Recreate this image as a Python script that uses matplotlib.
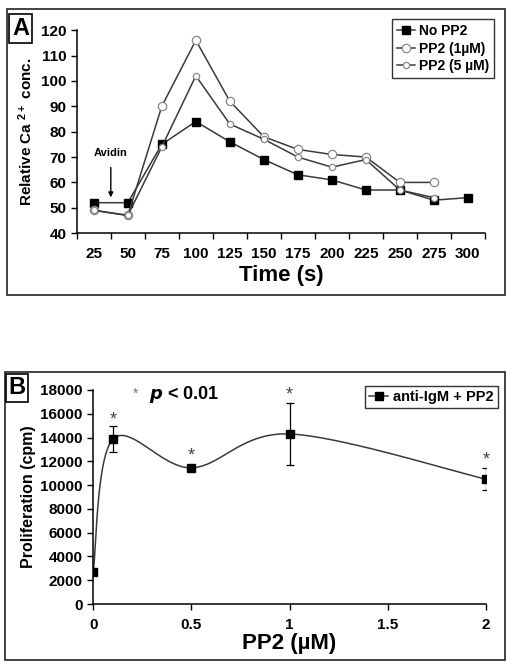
import matplotlib
matplotlib.use("Agg")
import matplotlib.pyplot as plt
from matplotlib.patches import Rectangle
import numpy as np

plt.rcParams["font.family"] = ["Liberation Sans", "DejaVu Sans"]
plt.rcParams["font.weight"] = "bold"
plt.rcParams["mathtext.fontset"] = "custom"
plt.rcParams["mathtext.rm"] = "Liberation Sans:bold"
plt.rcParams["mathtext.bf"] = "Liberation Sans:bold"
plt.rcParams["mathtext.default"] = "bf"

# Panel A data
times = ["25", "50", "75", "100", "125", "150", "175", "200", "225", "250", "275", "300"]
no_pp2 = [52, 52, 75, 84, 76, 69, 63, 61, 57, 57, 53, 54]
pp2_1 = [49, 47, 90, 116, 92, 78, 73, 71, 70, 60, 60]
pp2_5 = [49, 47, 74, 102, 83, 77, 70, 66, 69, 57, 54]

# Panel B data
dose = [0, 0.1, 0.5, 1, 2]
prolif = [2700, 13850, 11450, 14300, 10500]
prolif_err = [0, 1100, 150, 2600, 900]
star_y = [15500, 12450, 17600, 12100]

line_col = "#3a3a3a"
fig = plt.figure(figsize=(5.12, 6.70), dpi=100)

# outer boxes
fig.patches.append(Rectangle((0.0137, 0.560), 0.973, 0.427, transform=fig.transFigure,
                             fill=False, lw=1.2, ec="#222222"))
fig.patches.append(Rectangle((0.0098, 0.0149), 0.977, 0.430, transform=fig.transFigure,
                             fill=False, lw=1.2, ec="#222222"))

# ---------- Panel A ----------
ax = fig.add_axes([0.150, 0.652, 0.797, 0.303])
xa = np.arange(len(times))
ax.plot(xa, no_pp2, color=line_col, lw=1.1, marker="s", ms=5.5, mfc="black", mec="black",
        label="No PP2")
ax.plot(xa[:len(pp2_1)], pp2_1, color=line_col, lw=1.1, marker="o", ms=6, mfc="white",
        mec="#888888", mew=0.9, label="PP2 (1µM)")
ax.plot(xa[:len(pp2_5)], pp2_5, color=line_col, lw=1.1, marker="o", ms=4.5, mfc="white",
        mec="#888888", mew=0.9, label="PP2 (5 µM)")
ax.set_xlim(-0.5, len(times) - 0.5)
ax.set_ylim(40, 120)
ax.set_yticks(range(40, 121, 10))
ax.set_xticks(np.arange(len(times) + 1) - 0.5)
ax.set_xticklabels([])
ax.set_xticks(xa, minor=True)
ax.set_xticklabels(times, minor=True)
ax.tick_params(axis="x", which="minor", length=0, pad=10, labelsize=11)
ax.tick_params(axis="x", which="major", direction="out", length=4, width=1)
ax.tick_params(axis="y", direction="out", length=4, width=1, labelsize=11)
for s in ["top", "right"]:
    ax.spines[s].set_visible(False)
for s in ["left", "bottom"]:
    ax.spines[s].set_linewidth(1.1)
ax.set_xlabel("Time (s)", fontsize=16, fontweight="bold", labelpad=3)
ax.set_ylabel("Relative Ca $^{2+}$ conc.", fontsize=11, fontweight="bold", labelpad=4)
ax.annotate("", xy=(0.5, 53), xytext=(0.5, 67),
            arrowprops=dict(arrowstyle="-|>", color="black", lw=1, mutation_scale=7))
ax.text(0.5, 69.5, "Avidin", ha="center", va="bottom", fontsize=8)
leg = ax.legend(loc="upper right", bbox_to_anchor=(1.022, 1.054), borderaxespad=0,
                fontsize=10, frameon=True, fancybox=False, edgecolor="black",
                handlelength=1.3, handletextpad=0.3, borderpad=0.35, labelspacing=0.25)
leg.get_frame().set_linewidth(1)
fig.text(0.024, 0.957, "A", fontsize=17, fontweight="bold", va="center", ha="left",
         bbox=dict(boxstyle="square,pad=0.12", fc="white", ec="black", lw=1.2))

# ---------- Panel B ----------
bx = fig.add_axes([0.182, 0.0985, 0.767, 0.3195])
# smooth (Excel-like) curve through the points, built in pixel-ish space
sx, sy = 393 / 2.0, 214 / 18000.0
P = np.column_stack([np.array(dose) * sx, np.array(prolif) * sy])
curve = []
for i in range(len(P) - 1):
    p0 = P[i - 1] if i > 0 else P[i]
    p1, p2 = P[i], P[i + 1]
    p3 = P[i + 2] if i + 2 < len(P) else P[i + 1]
    c1 = p1 + (p2 - p0) / 6.0
    c2 = p2 - (p3 - p1) / 6.0
    t = np.linspace(0, 1, 40)[:, None]
    seg = (1 - t) ** 3 * p1 + 3 * (1 - t) ** 2 * t * c1 + 3 * (1 - t) * t ** 2 * c2 + t ** 3 * p2
    curve.append(seg)
curve = np.vstack(curve)
bx.plot(curve[:, 0] / sx, curve[:, 1] / sy, color=line_col, lw=1.1)
bx.errorbar(dose, prolif, yerr=prolif_err, fmt="none", ecolor="black", elinewidth=0.9,
            capsize=3, capthick=0.9, zorder=3)
bx.plot(dose, prolif, ls="none", marker="s", ms=6, mfc="black", mec="black", zorder=4)
bx.plot([], [], color=line_col, lw=1.1, marker="s", ms=6, mfc="black", mec="black",
        label="anti-IgM + PP2")
for xs, ys in zip(dose[1:], star_y):
    bx.text(xs, ys, "*", ha="center", va="center", fontsize=13, color="#444444",
            fontweight="normal")
bx.text(0.215, 17700, "*", ha="center", va="center", fontsize=10, color="#777777",
        fontweight="normal")
bx.text(0.285, 17600, r"$\mathbf{\it{p}}$ < 0.01", ha="left", va="center", fontsize=13,
        fontweight="bold")
bx.set_xlim(0, 2)
bx.set_ylim(0, 18000)
bx.set_yticks(range(0, 18001, 2000))
bx.set_xticks([0, 0.5, 1, 1.5, 2])
bx.set_xticklabels(["0", "0.5", "1", "1.5", "2"])
bx.tick_params(direction="out", length=4, width=1, labelsize=11)
bx.tick_params(axis="x", pad=6)
for s in ["top", "right"]:
    bx.spines[s].set_visible(False)
for s in ["left", "bottom"]:
    bx.spines[s].set_linewidth(1.1)
bx.set_xlabel("PP2 (µM)", fontsize=16, fontweight="bold", labelpad=1)
bx.set_ylabel("Proliferation (cpm)", fontsize=11.5, fontweight="bold", labelpad=3)
leg2 = bx.legend(loc="upper right", bbox_to_anchor=(1.03, 1.02), borderaxespad=0,
                 fontsize=10.5, frameon=True, fancybox=False, edgecolor="black",
                 handlelength=1.3, handletextpad=0.3, borderpad=0.3)
leg2.get_frame().set_linewidth(1)
fig.text(0.0165, 0.421, "B", fontsize=17, fontweight="bold", va="center", ha="left",
         bbox=dict(boxstyle="square,pad=0.12", fc="white", ec="black", lw=1.2))

fig.savefig("out.png", dpi=100)
